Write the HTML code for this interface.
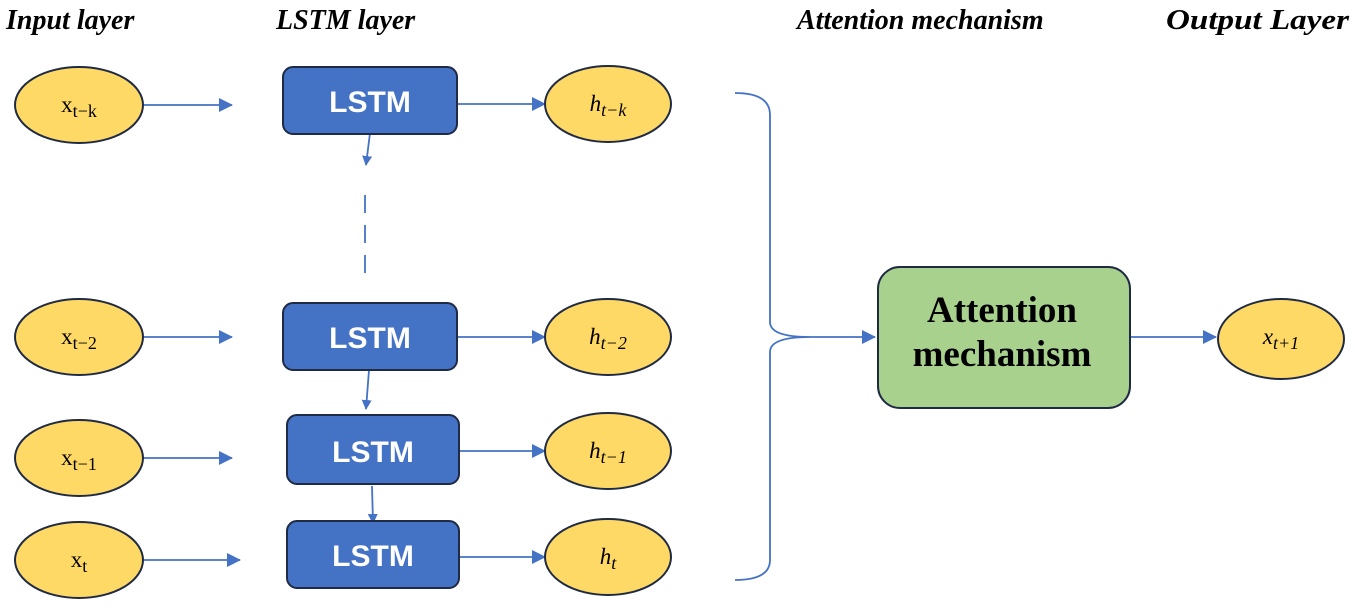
<!DOCTYPE html>
<html><head><style>body{margin:0;background:#fff}</style></head><body>
<svg width="1355" height="603" xmlns="http://www.w3.org/2000/svg">
<defs><marker id="a" markerWidth="10" markerHeight="10" refX="9" refY="5" orient="auto" markerUnits="userSpaceOnUse"><path d="M0,0 L10,5 L0,10z" fill="#4472c4"/></marker>
<marker id="b" markerWidth="14" markerHeight="14" refX="13" refY="7" orient="auto" markerUnits="userSpaceOnUse"><path d="M0,0 L14,7 L0,14z" fill="#4472c4"/></marker></defs>
<g font-family="Liberation Serif,serif" font-style="italic" font-weight="bold" font-size="28" fill="#000">
<text x="6" y="29">Input layer</text><text x="276" y="29">LSTM layer</text>
<text x="797" y="29">Attention mechanism</text><text x="1166" y="29" textLength="183" lengthAdjust="spacingAndGlyphs">Output Layer</text></g>
<g stroke="#4472c4" stroke-width="1.8" fill="none">
<line x1="143" y1="105" x2="232" y2="105" marker-end="url(#b)"/>
<line x1="143" y1="337" x2="232" y2="337" marker-end="url(#b)"/>
<line x1="143" y1="458" x2="232" y2="458" marker-end="url(#b)"/>
<line x1="143" y1="560" x2="240" y2="560" marker-end="url(#b)"/>
<line x1="457" y1="104" x2="545" y2="104" marker-end="url(#b)"/>
<line x1="457" y1="337" x2="545" y2="337" marker-end="url(#b)"/>
<line x1="459" y1="451" x2="545" y2="451" marker-end="url(#b)"/>
<line x1="459" y1="557" x2="545" y2="557" marker-end="url(#b)"/>
<line x1="370" y1="133" x2="366" y2="165" marker-end="url(#a)"/>
<line x1="365" y1="195" x2="365" y2="275" stroke-dasharray="18,12"/>
<line x1="369" y1="370" x2="366" y2="409" marker-end="url(#a)"/>
<line x1="372" y1="486" x2="373" y2="523" marker-end="url(#a)"/>
<path d="M735,93 Q770,93 770,115 L770,322 Q770,337 810,337 Q770,337 770,352 L770,560 Q770,580 735,580"/>
<line x1="810" y1="337" x2="875" y2="337" marker-end="url(#b)"/>
<line x1="1130" y1="337" x2="1216" y2="337" marker-end="url(#b)"/>
</g>
<g fill="#ffd966" stroke="#1f2a44" stroke-width="2">
<ellipse cx="79" cy="105" rx="64" ry="38"/><ellipse cx="79" cy="337" rx="64" ry="38"/>
<ellipse cx="79" cy="458" rx="64" ry="38"/><ellipse cx="79" cy="560" rx="64" ry="38"/>
<ellipse cx="608" cy="104" rx="63" ry="38"/><ellipse cx="608" cy="337" rx="63" ry="38"/>
<ellipse cx="608" cy="451" rx="63" ry="38"/><ellipse cx="608" cy="557" rx="63" ry="38"/>
<ellipse cx="1281" cy="339" rx="63" ry="40"/>
</g>
<g fill="#4472c4" stroke="#1f2a44" stroke-width="2">
<rect x="283" y="67" width="174" height="67" rx="10"/><rect x="283" y="303" width="174" height="67" rx="10"/>
<rect x="287" y="415" width="172" height="69" rx="10"/><rect x="287" y="521" width="172" height="67" rx="10"/>
</g>
<rect x="878" y="267" width="252" height="141" rx="22" fill="#a9d18e" stroke="#1f2a44" stroke-width="2"/>
<g font-family="Liberation Sans,sans-serif" font-weight="bold" font-size="30" fill="#fff" text-anchor="middle">
<text x="370" y="112">LSTM</text><text x="370" y="348">LSTM</text><text x="373" y="462">LSTM</text><text x="373" y="566">LSTM</text></g>
<g font-family="Liberation Serif,serif" font-weight="bold" font-size="37" text-anchor="middle" fill="#000">
<text x="1002" y="322">Attention</text><text x="1002" y="366">mechanism</text></g>
<g font-family="Liberation Serif,serif" font-size="23" fill="#000" text-anchor="middle">
<text x="79" y="112">x<tspan font-size="18" dy="5">t−k</tspan></text>
<text x="79" y="344">x<tspan font-size="18" dy="5">t−2</tspan></text>
<text x="79" y="465">x<tspan font-size="18" dy="5">t−1</tspan></text>
<text x="79" y="567">x<tspan font-size="18" dy="5">t</tspan></text>
<g font-style="italic">
<text x="608" y="111">h<tspan font-size="18" dy="5">t−k</tspan></text>
<text x="608" y="344">h<tspan font-size="18" dy="5">t−2</tspan></text>
<text x="608" y="458">h<tspan font-size="18" dy="5">t−1</tspan></text>
<text x="608" y="564">h<tspan font-size="18" dy="5">t</tspan></text>
<text x="1281" y="344">x<tspan font-size="18" dy="5">t+1</tspan></text></g>
</g>
</svg>
</body></html>
